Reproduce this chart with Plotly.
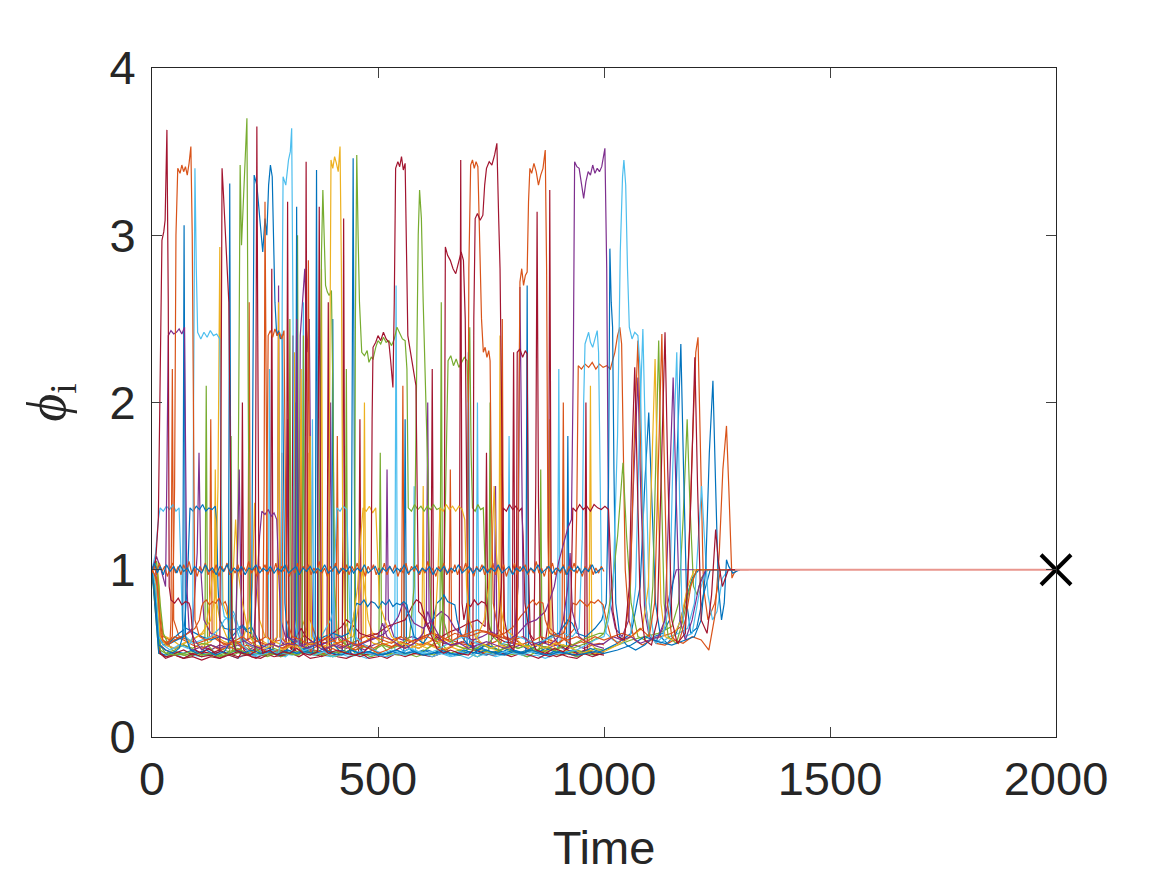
import plotly.graph_objects as go

# MATLAB default line colours
COLORS = {
    "blue": "#0072BD", "orange": "#D95319", "yellow": "#EDB120",
    "purple": "#7E2F8E", "green": "#77AC30", "lightblue": "#4DBEEE",
    "crimson": "#A2142F",
}

x_ticks = [0, 500, 1000, 1500, 2000]
y_ticks = [0, 1, 2, 3, 4]
x_title = "Time"
y_title = "<i>ϕ</i><sub>i</sub>"

# ---- agent trajectories phi_i(t): (time, value) ----
phi_03 = [(0,1.00),(8,1.05),(14,1.3),(18,2.0),(22,2.97),(26,3.02),(29,3.09),(33,3.63),(36,2.6),(38,0.9),(42,0.82),(50,0.80),(58,0.83),(66,0.79),(74,0.81),(82,0.80),(86,0.76),(90,0.6),(96,0.52),(110,0.50),(125,0.53),(140,0.50),(150,0.51),(152,1.5),(155,3.40),(158,3.25),(162,3.0),(166,2.75),(170,2.6),(173,1.8),(177,0.6),(185,0.52),(200,0.50),(215,0.49),(228,0.51),(230,2.2),(232,3.65),(234,2.4),(237,0.6),(245,0.50),(260,0.52),(275,0.49),(290,0.51),(305,0.50),(320,0.53),(335,0.50),(350,0.49),(366,0.51),(368,1.8),(370,3.17),(372,1.9),(375,0.55),(390,0.50),(410,0.52),(430,0.50),(450,0.49),(470,0.51),(484,0.55),(487,1.9),(489,2.33),(495,2.36),(500,2.40),(506,2.37),(512,2.42),(518,2.38),(524,2.36),(528,2.25),(533,2.09),(536,2.6),(539,3.40),(544,3.44),(548,3.41),(552,3.47),(556,3.39),(560,3.43),(563,3.0),(566,2.40),(572,2.30),(578,2.20),(584,2.10),(587,1.4),(590,0.75),(600,0.72),(615,0.62),(630,0.53),(645,0.50),(660,0.52),(680,0.50),(700,0.49),(710,0.52),(712,2.5),(715,3.10),(720,3.13),(726,3.09),(732,3.12),(736,3.3),(740,3.40),(746,3.44),(752,3.42),(758,3.48),(763,3.55),(767,3.1),(770,2.8),(775,1.6),(780,0.7),(790,0.55),(800,0.52),(806,0.6),(808,2.3),(814,2.32),(820,2.27),(826,2.31),(830,2.29),(833,1.0),(837,0.6),(850,0.52),(870,0.50),(890,0.53),(910,0.51),(925,0.55),(929,1.1),(931,1.37),(938,1.35),(946,1.39),(954,1.36),(962,1.38),(970,1.35),(978,1.39),(986,1.37),(994,1.36),(1002,1.38),(1010,1.36),(1014,1.1),(1020,0.75),(1030,0.6),(1045,0.58),(1056,0.9),(1062,1.7),(1068,2.21),(1073,1.6),(1080,0.8),(1090,0.58),(1105,0.55),(1118,0.7),(1126,1.5),(1135,2.42),(1141,1.6),(1150,0.7),(1162,0.56),(1180,0.62),(1192,1.4),(1201,2.27),(1207,1.5),(1215,0.7),(1228,0.62),(1238,0.85),(1247,1.24),(1253,1.05),(1262,0.9),(1275,1.0),(1300,1.0)]

phi_04 = [(0,1.0),(10,0.95),(18,0.7),(24,0.58),(35,0.56),(45,0.6),(50,1.5),(53,3.0),(57,3.40),(62,3.37),(66,3.42),(70,3.38),(74,3.41),(78,3.36),(82,3.43),(86,3.53),(89,3.0),(92,1.5),(95,0.7),(105,0.6),(120,0.58),(140,0.6),(160,0.55),(180,0.57),(200,0.6),(220,0.56),(240,0.58),(252,0.6),(255,1.8),(257,2.40),(262,2.43),(267,2.39),(272,2.44),(277,2.40),(282,2.42),(287,2.38),(292,2.43),(295,1.6),(298,0.7),(310,0.6),(330,0.58),(350,0.55),(370,0.57),(390,0.6),(410,0.56),(430,0.58),(450,0.55),(470,0.57),(490,0.6),(510,0.58),(530,0.56),(550,0.6),(570,0.57),(590,0.58),(610,0.6),(630,0.57),(650,0.59),(670,0.62),(690,0.6),(710,0.61),(730,0.63),(750,0.62),(770,0.6),(790,0.58),(808,0.6),(811,2.0),(814,2.72),(818,2.8),(822,2.7),(826,2.76),(830,2.78),(833,3.2),(836,3.40),(840,3.37),(845,3.43),(850,3.38),(855,3.30),(860,3.36),(865,3.40),(870,3.51),(873,2.8),(876,1.2),(880,0.65),(900,0.6),(920,0.58),(940,0.6),(960,0.57),(980,0.6),(1000,0.58),(1020,0.6),(1040,0.62),(1060,0.6),(1080,0.65),(1100,0.6),(1112,0.8),(1120,1.6),(1128,2.41),(1133,1.7),(1140,0.8),(1150,0.6),(1165,0.56),(1180,0.7),(1192,0.9),(1205,1.0),(1230,1.0),(1300,1.0)]

phi_05 = [(0,1.0),(10,1.08),(20,1.0),(30,0.9),(33,1.6),(36,2.40),(42,2.43),(48,2.41),(54,2.42),(60,2.44),(66,2.41),(72,2.45),(74,1.8),(77,0.9),(82,0.65),(95,0.58),(110,0.52),(130,0.55),(150,0.53),(170,0.55),(185,0.6),(190,1.2),(193,1.6),(196,1.0),(200,0.58),(220,0.55),(240,0.53),(260,0.56),(280,0.54),(300,0.56),(315,0.55),(318,1.6),(320,2.5),(323,1.5),(326,0.55),(345,0.53),(360,0.55),(380,0.52),(400,0.55),(420,0.53),(440,0.56),(460,0.55),(480,0.58),(500,0.6),(510,0.68),(520,0.6),(540,0.56),(560,0.53),(580,0.56),(600,0.62),(610,0.75),(620,0.68),(640,0.58),(660,0.55),(680,0.56),(700,0.53),(720,0.55),(740,0.57),(760,0.55),(780,0.53),(800,0.55),(810,0.9),(814,2.69),(818,1.4),(822,0.6),(840,0.55),(860,0.57),(880,0.55),(900,0.6),(910,0.7),(920,0.9),(925,1.1),(930,0.75),(945,0.6),(960,0.57),(980,0.55),(1000,0.56),(1020,0.6),(1040,0.58),(1060,0.6),(1080,0.56),(1100,0.58),(1120,0.6),(1135,0.7),(1145,1.5),(1153,2.15),(1159,1.5),(1168,0.7),(1180,0.58),(1195,0.7),(1210,0.9),(1225,1.0),(1300,1.0)]

phi_06 = [(0,1.0),(8,0.8),(15,0.55),(30,0.52),(45,0.5),(60,0.53),(68,0.6),(71,3.06),(74,0.6),(85,0.52),(100,0.5),(120,0.52),(140,0.49),(160,0.51),(169,0.55),(172,3.31),(175,0.6),(185,0.52),(200,0.5),(220,0.52),(240,0.5),(260,0.51),(280,0.49),(300,0.52),(320,0.5),(340,0.51),(355,0.5),(361,0.6),(364,3.39),(367,0.6),(380,0.52),(400,0.5),(420,0.49),(440,0.52),(460,0.5),(480,0.51),(500,0.49),(520,0.5),(540,0.52),(560,0.5),(580,0.51),(600,0.49),(620,0.5),(640,0.52),(660,0.5),(680,0.49),(700,0.51),(720,0.5),(740,0.52),(760,0.5),(780,0.49),(800,0.51),(820,0.5),(840,0.52),(860,0.5),(880,0.49),(900,0.51),(920,0.5),(940,0.49),(960,0.5),(980,0.51),(1000,0.5),(1030,0.52),(1060,0.55),(1090,0.6),(1120,0.57),(1150,0.55),(1180,0.58),(1200,0.6),(1215,0.7),(1225,1.0),(1233,1.7),(1241,2.13),(1247,1.5),(1253,0.9),(1260,0.7),(1266,0.8),(1271,1.06),(1276,1.02),(1285,0.98),(1300,1.0)]

phi_07 = [(0,1.0),(8,0.9),(15,0.6),(25,0.55),(40,0.52),(60,0.55),(80,0.53),(90,0.6),(92,2.0),(95,3.40),(98,2.8),(101,2.42),(108,2.38),(115,2.42),(122,2.39),(129,2.43),(136,2.40),(143,2.41),(150,2.38),(152,1.8),(155,0.8),(160,0.72),(170,0.7),(180,0.73),(190,0.62),(200,0.55),(220,0.5),(240,0.49),(260,0.51),(280,0.5),(286,0.6),(288,2.6),(290,3.35),(296,3.30),(302,3.45),(306,3.50),(309,3.64),(312,2.5),(315,0.7),(325,0.55),(340,0.5),(360,0.49),(380,0.51),(400,0.48),(420,0.5),(440,0.49),(460,0.51),(480,0.5),(500,0.49),(520,0.48),(540,0.5),(560,0.49),(580,0.51),(600,0.5),(620,0.48),(640,0.5),(660,0.49),(680,0.51),(700,0.5),(720,0.48),(740,0.5),(760,0.49),(780,0.51),(800,0.5),(820,0.49),(840,0.51),(860,0.5),(880,0.49),(900,0.5),(920,0.51),(940,0.52),(960,0.55),(980,0.58),(1000,0.6),(1010,0.7),(1020,0.9),(1030,1.8),(1036,2.9),(1041,3.35),(1044,3.45),(1048,3.3),(1052,2.8),(1056,2.45),(1062,2.38),(1068,2.42),(1075,2.4),(1080,2.2),(1085,1.5),(1092,0.8),(1100,0.62),(1115,0.56),(1130,0.6),(1145,0.8),(1152,1.6),(1161,2.30),(1166,1.6),(1172,0.8),(1180,0.6),(1195,0.62),(1210,0.85),(1225,1.0),(1300,1.0)]

phi_08 = [(0,1.0),(10,0.9),(18,0.6),(30,0.55),(50,0.53),(70,0.56),(90,0.58),(110,0.62),(130,0.7),(140,0.85),(146,1.5),(150,2.93),(153,1.5),(157,0.8),(170,0.7),(180,1.0),(185,1.3),(190,1.0),(200,0.8),(215,0.6),(230,0.55),(250,0.53),(270,0.55),(290,0.52),(310,0.55),(330,0.53),(350,0.56),(370,0.54),(390,0.55),(393,2.5),(396,3.45),(400,3.40),(404,3.47),(408,3.43),(412,3.38),(416,3.53),(419,2.8),(422,1.2),(426,0.7),(440,0.6),(455,0.9),(462,1.2),(467,1.37),(474,1.35),(481,1.38),(488,1.34),(495,1.37),(499,1.1),(503,0.8),(515,0.7),(530,0.6),(550,0.56),(570,0.55),(590,0.53),(610,0.56),(625,0.6),(633,1.0),(637,1.37),(644,1.35),(651,1.39),(658,1.36),(665,1.38),(672,1.35),(679,1.38),(686,1.36),(692,1.3),(696,0.9),(702,0.7),(715,0.6),(730,0.56),(750,0.53),(770,0.55),(790,0.53),(810,0.56),(830,0.54),(850,0.55),(870,0.53),(890,0.56),(910,0.55),(930,0.53),(950,0.5),(970,0.52),(990,0.5),(1000,0.51),(1030,0.55),(1060,0.6),(1085,0.65),(1098,0.9),(1106,1.7),(1113,2.26),(1118,1.6),(1126,0.8),(1135,0.6),(1150,0.58),(1170,0.7),(1185,0.9),(1200,1.0),(1300,1.0)]

phi_09 = [(0,1.0),(10,0.8),(18,0.55),(30,0.5),(50,0.49),(70,0.5),(90,0.51),(110,0.49),(130,0.5),(150,0.48),(170,0.5),(185,0.52),(190,1.2),(193,2.5),(195,3.42),(198,2.94),(203,3.3),(207,3.5),(210,3.70),(213,2.0),(216,0.7),(225,0.55),(240,0.5),(260,0.49),(280,0.51),(300,0.5),(320,0.49),(340,0.51),(360,0.5),(380,0.49),(400,0.51),(420,0.5),(440,0.52),(448,0.6),(450,2.5),(453,3.48),(456,3.0),(459,2.6),(464,2.30),(470,2.28),(476,2.31),(480,2.24),(485,2.27),(489,2.26),(495,2.33),(500,2.37),(506,2.35),(512,2.39),(518,2.36),(524,2.37),(530,2.34),(536,2.38),(542,2.45),(548,2.41),(554,2.38),(560,2.37),(564,2.2),(567,1.37),(574,1.35),(581,1.39),(588,1.36),(595,1.38),(602,1.35),(609,1.38),(616,1.36),(623,1.39),(630,1.36),(637,1.37),(640,1.0),(645,0.7),(655,0.6),(670,0.55),(690,0.53),(710,0.52),(730,0.55),(750,0.53),(770,0.52),(790,0.55),(810,0.53),(830,0.55),(850,0.52),(870,0.54),(890,0.52),(910,0.55),(930,0.53),(950,0.55),(970,0.57),(990,0.6),(1000,0.62),(1010,0.75),(1020,0.95),(1030,1.2),(1042,1.64),(1050,1.2),(1060,0.8),(1075,0.6),(1090,0.58),(1100,0.62),(1108,0.9),(1115,1.7),(1121,2.37),(1126,1.6),(1133,0.8),(1142,0.6),(1160,0.56),(1175,0.7),(1190,0.9),(1205,1.0),(1300,1.0)]

phi_10 = [(0,1.0),(8,0.85),(15,0.6),(25,0.55),(40,0.57),(60,0.62),(75,0.65),(90,0.63),(110,0.6),(130,0.58),(150,0.6),(170,0.58),(190,0.64),(200,0.66),(210,0.63),(220,0.62),(223,2.0),(226,3.36),(232,3.3),(238,3.1),(245,2.9),(250,3.1),(254,3.0),(258,3.3),(262,3.42),(266,3.35),(269,2.9),(272,2.6),(276,2.40),(280,2.43),(284,2.38),(288,2.41),(291,1.6),(294,0.8),(300,0.6),(320,0.55),(340,0.52),(360,0.5),(380,0.53),(400,0.5),(420,0.52),(440,0.5),(442,1.5),(445,3.46),(448,1.4),(451,0.55),(470,0.5),(490,0.52),(510,0.49),(530,0.51),(550,0.5),(570,0.53),(590,0.5),(610,0.52),(630,0.5),(650,0.51),(670,0.49),(690,0.52),(710,0.5),(730,0.53),(750,0.51),(770,0.5),(790,0.53),(810,0.5),(830,0.52),(850,0.5),(870,0.53),(890,0.51),(910,0.5),(930,0.52),(950,0.5),(970,0.53),(990,0.51),(1000,0.52),(1030,0.56),(1060,0.62),(1080,0.9),(1090,1.5),(1099,1.94),(1106,1.4),(1114,0.8),(1125,0.6),(1140,0.56),(1160,0.62),(1180,0.8),(1195,0.95),(1210,1.0),(1300,1.0)]

phi_11 = [(0,1.0),(10,0.85),(18,0.6),(30,0.56),(50,0.6),(70,0.58),(90,0.55),(110,0.53),(130,0.55),(150,0.52),(170,0.54),(190,0.52),(210,0.55),(230,0.53),(245,0.55),(248,1.5),(250,3.20),(253,1.5),(256,0.6),(270,0.55),(290,0.53),(310,0.56),(330,0.54),(350,0.52),(370,0.55),(390,0.53),(410,0.56),(430,0.54),(450,0.52),(470,0.55),(490,0.53),(510,0.56),(530,0.54),(550,0.57),(570,0.55),(590,0.53),(610,0.56),(630,0.54),(650,0.52),(670,0.55),(690,0.57),(698,0.7),(701,2.8),(705,3.42),(709,3.45),(713,3.40),(717,3.44),(721,3.41),(725,3.0),(729,2.5),(733,2.30),(737,2.33),(741,2.27),(745,2.31),(748,2.25),(751,1.4),(755,0.8),(765,0.65),(780,0.6),(800,0.58),(820,0.6),(840,0.57),(860,0.6),(880,0.58),(900,0.56),(920,0.6),(935,0.65),(940,1.4),(943,2.22),(950,2.20),(958,2.23),(966,2.21),(974,2.24),(982,2.20),(990,2.23),(998,2.21),(1006,2.22),(1014,2.20),(1018,2.24),(1024,2.3),(1030,2.40),(1035,2.45),(1039,2.35),(1042,1.8),(1047,1.0),(1055,0.7),(1068,0.58),(1085,0.55),(1105,0.58),(1125,0.6),(1150,0.62),(1170,0.66),(1185,0.9),(1195,1.7),(1203,2.3),(1208,2.39),(1213,1.7),(1220,0.9),(1230,0.7),(1245,0.8),(1258,1.0),(1300,1.0)]

phi_12 = [(0,1.0),(10,0.7),(18,0.5),(30,0.48),(50,0.49),(70,0.47),(90,0.5),(110,0.48),(130,0.49),(150,0.47),(170,0.5),(190,0.48),(210,0.49),(230,0.47),(250,0.5),(270,0.48),(290,0.49),(310,0.5),(325,0.48),(338,0.5),(341,3.44),(344,0.55),(355,0.5),(375,0.48),(395,0.5),(410,0.49),(421,0.52),(424,3.10),(427,0.6),(440,0.5),(460,0.48),(480,0.5),(500,0.49),(520,0.47),(540,0.5),(560,0.48),(580,0.5),(600,0.49),(620,0.48),(640,0.5),(646,0.6),(649,2.93),(654,2.88),(660,2.85),(666,2.80),(672,2.77),(678,2.83),(684,2.9),(689,2.85),(693,2.5),(697,1.2),(701,0.6),(715,0.52),(735,0.5),(755,0.49),(775,0.5),(795,0.48),(815,0.5),(835,0.49),(855,0.47),(875,0.5),(895,0.48),(915,0.5),(935,0.49),(955,0.5),(975,0.48),(995,0.5),(1000,0.5)]

phi_13 = [(0,1.0),(10,0.75),(18,0.52),(30,0.5),(50,0.52),(70,0.55),(90,0.53),(110,0.56),(130,0.55),(150,0.53),(170,0.51),(190,0.53),(210,0.5),(230,0.52),(250,0.5),(270,0.53),(290,0.51),(310,0.5),(330,0.52),(350,0.5),(368,0.52),(372,1.8),(375,2.9),(378,3.27),(381,2.9),(384,2.70),(388,2.66),(392,2.64),(397,2.67),(400,2.1),(404,0.9),(410,0.6),(430,0.55),(450,0.52),(470,0.54),(490,0.52),(510,0.55),(530,0.53),(550,0.55),(570,0.6),(580,0.9),(585,2.0),(589,3.0),(592,3.27),(596,3.1),(600,2.6),(605,2.1),(610,1.6),(615,0.9),(622,0.6),(640,0.53),(660,0.5),(680,0.52),(700,0.5),(720,0.53),(740,0.51),(760,0.5),(780,0.53),(800,0.51),(820,0.5),(840,0.52),(860,0.5),(880,0.53),(900,0.51),(920,0.5),(940,0.52),(960,0.5),(980,0.53),(1000,0.52),(1030,0.55),(1060,0.58),(1090,0.6),(1120,0.62),(1150,0.66),(1165,0.8),(1175,1.3),(1184,1.90),(1190,1.4),(1198,0.9),(1206,0.85),(1215,0.95),(1230,1.0),(1300,1.0)]

phi_14 = [(0,1.0),(10,0.8),(18,0.55),(30,0.52),(50,0.5),(70,0.52),(90,0.49),(110,0.51),(130,0.5),(150,0.52),(170,0.49),(190,0.51),(210,0.5),(230,0.53),(250,0.51),(270,0.5),(290,0.52),(310,0.55),(320,0.6),(330,0.65),(340,0.6),(360,0.56),(380,0.58),(400,0.62),(420,0.66),(430,0.7),(440,0.68),(460,0.62),(480,0.6),(500,0.62),(520,0.66),(540,0.68),(560,0.7),(575,0.78),(585,0.82),(595,0.8),(605,0.7),(620,0.62),(640,0.58),(660,0.55),(675,0.56),(680,0.7),(683,3.45),(686,0.8),(690,0.7),(697,0.80),(705,0.78),(713,0.82),(721,0.79),(729,0.81),(737,0.8),(741,0.78),(746,0.65),(755,0.6),(765,0.62),(773,0.9),(777,1.37),(784,1.35),(791,1.39),(798,1.36),(805,1.38),(812,1.35),(818,1.37),(821,1.2),(825,0.8),(835,0.62),(845,0.58),(849,1.5),(852,3.14),(855,1.4),(860,0.6),(870,0.56),(877,0.7),(880,3.27),(883,1.0),(888,0.6),(900,0.55),(920,0.52),(940,0.5),(960,0.52),(980,0.49),(1000,0.51)]

phi_15 = [(0,1.0),(10,1.05),(18,0.8),(25,0.62),(35,0.56),(45,0.52),(60,0.5),(80,0.48),(100,0.5),(120,0.49),(140,0.48),(160,0.5),(180,0.49),(195,0.51),(200,0.6),(210,0.55),(225,0.5),(245,0.49),(265,0.5),(285,0.48),(305,0.5),(325,0.49),(332,0.6),(335,2.4),(338,0.6),(345,0.5),(365,0.49),(385,0.5),(405,0.48),(425,0.5),(445,0.49),(465,0.5),(485,0.48),(505,0.5),(525,0.49),(545,0.5),(565,0.49),(585,0.5),(605,0.52),(620,0.55),(635,0.6),(645,0.8),(650,1.6),(653,2.1),(655,2.25),(661,2.28),(667,2.22),(673,2.26),(679,2.21),(685,2.24),(691,2.27),(697,2.25),(700,2.0),(703,2.45),(706,1.7),(709,1.37),(715,1.35),(721,1.39),(727,1.36),(733,1.37),(737,1.0),(742,0.7),(755,0.6),(770,0.56),(790,0.55),(810,0.53),(830,0.55),(850,0.52),(870,0.54),(890,0.52),(910,0.54),(930,0.55),(950,0.58),(970,0.6),(990,0.62),(1000,0.62)]

phi_16 = [(0,1.0),(8,1.0),(14,0.75),(20,0.58),(35,0.55),(50,0.58),(70,0.6),(90,0.65),(100,1.1),(104,1.7),(108,1.0),(115,0.7),(130,0.62),(150,0.6),(170,0.58),(190,0.56),(210,0.58),(225,0.6),(232,0.9),(238,1.2),(243,1.35),(250,1.33),(257,1.36),(264,1.32),(270,1.34),(276,1.30),(280,1.0),(285,0.7),(295,0.6),(315,0.58),(335,0.55),(355,0.57),(375,0.55),(395,0.58),(415,0.6),(435,0.57),(455,0.55),(475,0.57),(495,0.59),(515,0.62),(530,0.66),(545,0.72),(555,0.8),(565,0.75),(580,0.68),(600,0.65),(620,0.7),(640,0.75),(655,0.72),(670,0.65),(690,0.6),(710,0.58),(730,0.6),(750,0.63),(770,0.6),(790,0.58),(810,0.62),(830,0.68),(850,0.7),(870,0.75),(880,0.82),(890,0.9),(900,1.05),(910,1.15),(920,1.25),(928,1.3),(932,2.2),(935,3.44),(940,3.41),(945,3.40),(950,3.30),(955,3.22),(960,3.32),(965,3.38),(970,3.36),(975,3.42),(980,3.37),(985,3.40),(990,3.38),(995,3.41),(1002,3.52),(1006,2.8),(1010,1.2),(1014,0.8),(1025,0.65),(1040,0.6),(1055,0.7),(1065,1.5),(1075,2.15),(1081,1.5),(1090,0.75),(1100,0.6),(1115,0.57),(1130,0.65),(1145,0.85),(1160,1.0),(1300,1.0)]

phi_17 = [(0,1.0),(8,0.8),(14,0.6),(25,0.55),(40,0.56),(55,0.58),(70,0.6),(78,0.9),(82,1.2),(84,1.37),(91,1.35),(98,1.38),(105,1.36),(112,1.39),(119,1.35),(126,1.37),(133,1.36),(140,1.38),(143,1.3),(146,0.9),(150,0.7),(160,0.65),(175,0.64),(190,0.65),(200,0.67),(210,0.64),(220,0.66),(230,0.6),(240,0.55),(260,0.53),(280,0.5),(300,0.52),(320,0.5),(340,0.53),(360,0.55),(380,0.6),(400,0.62),(420,0.6),(435,0.62),(445,0.7),(450,0.78),(453,0.80),(461,0.79),(469,0.82),(477,0.78),(485,0.81),(493,0.8),(501,0.77),(509,0.81),(517,0.79),(525,0.82),(533,0.78),(541,0.8),(549,0.79),(557,0.81),(564,0.79),(570,0.7),(580,0.6),(600,0.56),(615,0.62),(625,0.75),(630,0.80),(638,0.82),(646,0.85),(654,0.81),(662,0.8),(670,0.79),(675,0.7),(685,0.6),(700,0.55),(720,0.52),(740,0.55),(760,0.53),(780,0.5),(800,0.52),(820,0.5),(840,0.53),(860,0.56),(880,0.6),(900,0.62),(910,0.66),(920,0.7),(930,0.68),(940,0.62),(960,0.6),(980,0.65),(995,0.7),(1005,0.8),(1010,1.5),(1013,2.92),(1016,2.6),(1019,2.45),(1022,1.6),(1026,0.8),(1035,0.6),(1050,0.55),(1070,0.52),(1090,0.55),(1110,0.6),(1130,0.62),(1145,0.7),(1155,1.0),(1162,1.7),(1170,2.35),(1176,1.6),(1183,0.8),(1192,0.62),(1205,0.65),(1220,0.85),(1235,1.0),(1300,1.0)]

phi_18 = [(0,1.0),(8,1.1),(14,1.3),(18,1.37),(25,1.35),(32,1.38),(39,1.36),(46,1.39),(53,1.35),(60,1.37),(63,1.1),(67,0.7),(75,0.6),(90,0.56),(110,0.58),(130,0.6),(150,0.65),(160,0.7),(170,0.72),(180,0.75),(185,0.72),(195,0.62),(210,0.56),(230,0.53),(250,0.5),(270,0.52),(290,0.5),(310,0.49),(330,0.51),(350,0.53),(370,0.58),(385,0.65),(395,0.7),(400,0.75),(405,1.1),(409,1.37),(416,1.35),(423,1.38),(431,1.36),(434,1.0),(438,0.7),(450,0.6),(470,0.55),(490,0.52),(510,0.5),(530,0.52),(550,0.5),(570,0.53),(590,0.51),(610,0.5),(630,0.52),(650,0.55),(670,0.58),(690,0.6),(710,0.57),(730,0.55),(750,0.53),(770,0.55),(790,0.58),(810,0.6),(830,0.58),(850,0.56),(870,0.58),(890,0.6),(910,0.62),(930,0.6),(945,0.65),(952,1.2),(955,2.0),(958,2.35),(962,2.38),(966,2.42),(970,2.36),(975,2.33),(980,2.38),(985,2.43),(988,2.3),(991,1.6),(995,0.8),(1005,0.62),(1020,0.58),(1040,0.56),(1058,0.6),(1070,0.9),(1078,1.8),(1086,2.44),(1092,1.7),(1100,0.8),(1110,0.6),(1125,0.56),(1145,0.6),(1165,0.62),(1185,0.65),(1200,0.8),(1209,1.2),(1216,1.50),(1222,1.2),(1230,0.85),(1240,0.7),(1250,0.75),(1262,0.95),(1275,1.0),(1300,1.0)]

phi_19 = [(0,1.0),(10,1.05),(16,0.9),(20,0.62),(30,0.6),(45,0.58),(60,0.55),(80,0.57),(100,0.6),(115,0.62),(125,0.75),(130,0.88),(135,1.0),(140,0.85),(150,0.7),(165,0.6),(180,0.55),(200,0.58),(215,0.7),(222,0.9),(227,1.4),(232,0.9),(238,0.7),(250,0.6),(270,0.57),(290,0.55),(310,0.58),(325,0.6),(330,2.2),(333,0.7),(345,0.6),(350,1.8),(353,0.6),(365,0.55),(385,0.53),(405,0.56),(425,0.58),(445,0.6),(455,0.75),(460,0.9),(465,1.0),(470,0.9),(478,0.7),(490,0.6),(510,0.56),(530,0.54),(550,0.56),(570,0.58),(590,0.55),(610,0.53),(630,0.56),(650,0.58),(670,0.55),(690,0.53),(705,0.56),(720,0.6),(735,0.7),(745,0.9),(752,1.1),(757,1.5),(762,1.1),(770,0.8),(780,0.65),(800,0.6),(820,0.55),(840,0.52),(860,0.5),(880,0.53),(900,0.5),(920,0.52),(940,0.49),(960,0.51),(980,0.5),(1000,0.51)]

phi_20 = [(0,1.0),(8,0.95),(14,0.7),(22,0.58),(35,0.55),(50,0.58),(65,0.6),(80,0.62),(95,0.65),(105,0.7),(110,0.78),(113,0.80),(120,0.82),(127,0.79),(134,0.81),(141,0.8),(148,0.83),(155,0.79),(162,0.81),(166,0.78),(170,0.65),(180,0.58),(195,0.55),(210,0.53),(225,0.5),(240,0.53),(260,0.5),(280,0.52),(300,0.55),(320,0.53),(340,0.5),(360,0.52),(380,0.5),(400,0.53),(420,0.5),(440,0.52),(460,0.55),(480,0.53),(500,0.5),(520,0.52),(540,0.55),(560,0.53),(580,0.56),(600,0.6),(620,0.62),(640,0.6),(660,0.57),(680,0.6),(700,0.62),(720,0.64),(740,0.63),(760,0.6),(780,0.62),(800,0.66),(815,0.72),(825,0.75),(832,0.78),(836,0.80),(843,0.82),(850,0.79),(857,0.81),(865,0.8),(870,0.7),(880,0.62),(895,0.6),(910,0.62),(922,0.7),(928,0.78),(931,0.80),(939,0.79),(947,0.82),(955,0.8),(963,0.78),(971,0.81),(979,0.8),(987,0.82),(998,0.79),(1005,0.7),(1015,0.6),(1030,0.56),(1045,0.6),(1058,0.85),(1066,1.7),(1075,2.37),(1081,1.7),(1090,0.85),(1100,0.62),(1115,0.56),(1135,0.55),(1155,0.58),(1175,0.56),(1195,0.6),(1215,0.58),(1232,0.52),(1245,0.72),(1255,1.1),(1263,1.6),(1271,1.86),(1276,1.5),(1280,1.1),(1283,0.95),(1288,0.98),(1295,1.0),(1320,1.0)]

phi_21 = [(0,1.0),(10,0.9),(18,0.6),(30,0.55),(50,0.53),(70,0.55),(90,0.52),(110,0.54),(130,0.52),(150,0.55),(170,0.53),(190,0.55),(210,0.52),(230,0.54),(250,0.52),(270,0.55),(277,0.6),(280,2.7),(283,0.6),(290,0.55),(297,0.6),(300,1.9),(303,0.6),(315,0.55),(325,0.6),(328,2.4),(333,2.6),(338,2.8),(343,2.3),(348,2.5),(352,1.2),(356,0.6),(370,0.55),(390,0.57),(395,2.0),(398,0.6),(410,0.55),(430,0.53),(450,0.55),(470,0.52),(490,0.55),(510,0.57),(517,0.7),(520,1.6),(523,0.7),(535,0.6),(555,0.58),(575,0.6),(595,0.58),(607,0.7),(610,2.0),(613,0.7),(625,0.6),(645,0.56),(665,0.55),(685,0.57),(705,0.55),(725,0.53),(745,0.56),(757,0.6),(760,1.5),(763,0.6),(775,0.55),(795,0.53),(815,0.55),(835,0.52),(855,0.55),(875,0.53),(895,0.55),(915,0.52),(935,0.55),(955,0.53),(975,0.55),(1000,0.53)]

phi_22 = [(0,1.0),(8,0.85),(15,0.52),(30,0.48),(50,0.5),(70,0.47),(90,0.49),(110,0.48),(130,0.5),(150,0.48),(170,0.49),(190,0.47),(210,0.5),(230,0.48),(250,0.49),(257,0.55),(260,2.2),(263,0.55),(275,0.5),(295,0.48),(315,0.52),(318,2.0),(321,0.55),(332,0.52),(335,2.6),(338,0.55),(352,0.5),(355,1.9),(358,0.52),(375,0.49),(395,0.48),(415,0.5),(435,0.48),(455,0.49),(475,0.47),(495,0.5),(515,0.48),(537,0.5),(540,2.7),(543,0.55),(560,0.5),(577,0.52),(580,1.5),(583,0.52),(600,0.49),(620,0.48),(640,0.5),(660,0.48),(680,0.49),(700,0.47),(717,0.5),(720,2.0),(723,0.55),(740,0.5),(760,0.48),(787,0.5),(790,1.8),(793,0.52),(810,0.5),(830,0.48),(850,0.49),(870,0.47),(897,0.5),(900,2.2),(903,0.55),(920,0.5),(940,0.48),(960,0.5),(980,0.49),(1000,0.5)]

phi_23 = [(0,1.0),(8,0.7),(15,0.5),(30,0.48),(50,0.5),(70,0.49),(90,0.5),(110,0.48),(117,0.55),(120,2.1),(123,0.55),(140,0.5),(160,0.48),(172,0.52),(175,1.8),(178,0.52),(195,0.5),(215,0.49),(235,0.5),(255,0.48),(275,0.5),(295,0.49),(302,0.55),(305,2.5),(308,0.55),(315,0.5),(319,0.6),(322,3.0),(325,0.6),(340,0.5),(360,0.49),(380,0.5),(400,0.48),(427,0.52),(430,2.2),(433,0.55),(450,0.5),(470,0.49),(490,0.5),(502,0.55),(505,1.7),(508,0.55),(525,0.5),(545,0.49),(565,0.5),(585,0.48),(605,0.5),(625,0.49),(637,0.55),(640,2.6),(643,0.55),(660,0.5),(680,0.49),(700,0.5),(720,0.48),(745,0.52),(748,2.0),(751,0.55),(770,0.5),(790,0.49),(810,0.5),(830,0.48),(857,0.52),(860,1.6),(863,0.52),(880,0.5),(900,0.49),(920,0.5),(940,0.48),(960,0.5),(980,0.49),(1000,0.5)]

phi_24 = [(0,1.0),(10,0.95),(18,0.6),(30,0.56),(50,0.58),(70,0.6),(90,0.57),(110,0.55),(130,0.57),(137,0.6),(140,1.6),(143,0.6),(160,0.57),(180,0.55),(200,0.57),(220,0.6),(240,0.58),(260,0.55),(277,0.6),(280,2.6),(283,0.6),(300,0.56),(312,0.6),(315,2.3),(318,0.6),(330,0.55),(342,0.58),(345,1.7),(348,0.58),(360,0.55),(372,0.6),(375,2.8),(378,0.6),(395,0.55),(415,0.53),(435,0.55),(455,0.58),(467,0.6),(470,2.0),(473,0.6),(490,0.56),(510,0.55),(530,0.57),(550,0.55),(570,0.53),(597,0.56),(600,1.5),(603,0.56),(620,0.54),(640,0.52),(660,0.54),(680,0.52),(700,0.54),(720,0.52),(740,0.5),(767,0.52),(770,2.4),(773,0.55),(790,0.52),(810,0.5),(830,0.52),(850,0.5),(877,0.52),(880,1.9),(883,0.55),(900,0.52),(920,0.5),(940,0.52),(967,0.5),(970,2.1),(973,0.55),(985,0.52),(1000,0.51)]

phi_25 = [(0,1.0),(8,0.75),(15,0.5),(30,0.49),(50,0.51),(70,0.5),(90,0.52),(110,0.5),(130,0.49),(150,0.51),(170,0.5),(190,0.52),(210,0.5),(230,0.49),(250,0.51),(270,0.5),(290,0.52),(310,0.5),(317,0.55),(320,3.17),(323,0.6),(335,0.52),(355,0.5),(375,0.51),(397,0.52),(400,2.5),(403,0.55),(420,0.5),(440,0.52),(460,0.5),(480,0.51),(500,0.49),(520,0.5),(540,0.52),(557,0.5),(560,1.9),(563,0.55),(580,0.5),(600,0.52),(620,0.5),(640,0.51),(660,0.49),(680,0.5),(697,0.52),(700,2.3),(703,0.55),(720,0.5),(740,0.49),(760,0.51),(780,0.5),(800,0.52),(827,0.5),(830,2.7),(833,0.55),(850,0.5),(870,0.49),(890,0.51),(917,0.5),(920,1.8),(923,0.55),(940,0.5),(960,0.52),(980,0.5),(1000,0.51)]

phi_26 = [(0,1.0),(10,0.8),(18,0.5),(30,0.47),(50,0.49),(70,0.47),(90,0.48),(110,0.46),(130,0.48),(150,0.47),(170,0.49),(190,0.47),(197,0.5),(200,2.0),(203,0.52),(220,0.48),(240,0.47),(262,0.5),(265,2.8),(268,0.52),(285,0.48),(297,0.5),(300,3.2),(303,0.55),(309,0.52),(312,2.4),(315,0.52),(327,0.5),(330,1.9),(333,0.5),(350,0.47),(370,0.48),(387,0.5),(390,2.6),(393,0.52),(410,0.48),(430,0.47),(457,0.5),(460,1.9),(463,0.5),(480,0.47),(500,0.48),(520,0.5),(540,0.52),(560,0.55),(580,0.58),(600,0.6),(617,0.62),(620,2.2),(623,0.62),(640,0.6),(660,0.63),(680,0.65),(700,0.68),(720,0.7),(737,0.66),(740,1.7),(743,0.62),(760,0.6),(780,0.57),(797,0.56),(800,2.3),(803,0.58),(820,0.55),(840,0.52),(860,0.5),(880,0.48),(900,0.5),(920,0.48),(940,0.47),(957,0.5),(960,2.0),(963,0.52),(980,0.5),(1000,0.49)]

phi_27 = [(0,1.0),(10,1.02),(18,0.75),(25,0.6),(40,0.58),(42,0.7),(45,2.2),(48,0.7),(60,0.6),(80,0.58),(100,0.56),(120,0.58),(127,0.6),(130,1.9),(133,0.6),(150,0.57),(170,0.55),(190,0.57),(212,0.58),(215,2.6),(218,0.6),(235,0.57),(255,0.55),(270,0.57),(284,0.58),(287,1.7),(290,0.58),(305,0.55),(320,0.57),(335,0.6),(343,0.65),(346,2.85),(350,0.7),(365,0.58),(385,0.56),(407,0.58),(410,1.8),(413,0.58),(430,0.55),(450,0.57),(470,0.6),(490,0.62),(510,0.6),(530,0.58),(552,0.6),(555,2.1),(558,0.6),(575,0.57),(595,0.55),(615,0.57),(635,0.6),(657,0.58),(660,1.6),(663,0.58),(680,0.56),(700,0.55),(720,0.57),(740,0.55),(760,0.57),(772,0.6),(775,2.5),(778,0.6),(795,0.57),(815,0.55),(835,0.57),(855,0.55),(875,0.57),(895,0.55),(907,0.58),(910,2.0),(913,0.58),(930,0.55),(950,0.57),(970,0.55),(990,0.56),(1000,0.55)]

# the two agents that stay near phi = 1 until t = 1000
phi_01 = [(0,1.00),(6,1.04),(12,0.98),(18,1.02),(25,0.97),(32,1.03),(40,0.99),(48,1.02),(55,0.98),(62,1.03),(70,0.99),(78,1.01),(86,0.97),(94,1.02),(102,1.00),(110,0.98),(118,1.03),(126,0.99),(134,1.01),(142,0.97),(150,1.02),(158,0.99),(166,1.03),(174,0.98),(182,1.01),(190,0.99),(198,1.02),(206,0.97),(214,1.01),(222,1.00),(230,1.03),(238,0.98),(246,1.01),(254,0.99),(262,1.02),(270,0.98),(278,1.01),(286,0.99),(294,1.03),(302,0.98),(310,1.00),(318,1.02),(326,0.97),(334,1.01),(342,0.99),(350,1.02),(358,0.98),(366,1.01),(374,0.99),(382,1.03),(390,0.98),(398,1.00),(406,1.02),(414,0.98),(422,1.01),(430,0.99),(438,1.02),(446,0.98),(454,1.01),(462,0.99),(470,1.03),(478,0.98),(486,1.00),(494,1.02),(502,0.97),(510,1.01),(518,0.99),(526,1.02),(534,0.98),(542,1.01),(550,0.99),(558,1.03),(566,0.98),(574,1.00),(582,1.02),(590,0.98),(598,1.01),(606,0.99),(614,1.02),(622,0.97),(630,1.01),(638,0.99),(646,1.02),(654,0.98),(662,1.01),(670,0.99),(678,1.03),(686,0.98),(694,1.00),(702,1.02),(710,0.98),(718,1.01),(726,0.99),(734,1.02),(742,0.98),(750,1.01),(758,0.99),(766,1.03),(774,0.98),(782,1.00),(790,1.02),(798,0.97),(806,1.01),(814,0.99),(822,1.02),(830,0.98),(838,1.01),(846,0.99),(854,1.03),(862,0.98),(870,1.00),(878,1.02),(886,0.98),(894,1.01),(902,0.99),(910,1.02),(918,0.97),(926,1.01),(934,0.99),(942,1.02),(950,0.98),(958,1.01),(966,0.99),(974,1.03),(982,0.98),(990,1.00),(998,1.01)]

phi_02 = [(0,0.98),(5,1.03),(10,0.97),(16,1.04),(22,0.99),(28,1.02),(34,0.96),(40,1.01),(46,1.04),(52,0.98),(58,1.02),(64,0.97),(70,1.03),(76,0.99),(82,1.05),(88,0.98),(94,1.01),(100,0.96),(106,1.02),(112,0.99),(118,1.04),(124,0.97),(130,1.01),(136,0.98),(142,1.03),(148,0.96),(154,1.02),(160,0.99),(166,1.04),(172,0.97),(178,1.01),(184,0.98),(190,1.03),(196,0.97),(202,1.02),(208,0.99),(214,1.05),(220,0.98),(226,1.01),(232,0.96),(238,1.02),(244,0.99),(250,1.03),(256,0.97),(262,1.01),(268,0.98),(274,1.04),(280,0.97),(286,1.02),(292,0.99),(298,1.03),(304,0.96),(310,1.01),(316,0.98),(322,1.04),(328,0.97),(334,1.02),(340,0.99),(346,1.03),(352,0.97),(358,1.01),(364,0.98),(370,1.05),(376,0.98),(382,1.01),(388,0.96),(394,1.02),(400,0.99),(406,1.04),(412,0.97),(418,1.01),(424,0.98),(430,1.03),(436,0.97),(442,1.02),(448,0.99),(454,1.04),(460,0.98),(466,1.01),(472,0.96),(478,1.02),(484,0.99),(490,1.03),(496,0.97),(502,1.01),(508,0.98),(514,1.04),(520,0.97),(526,1.02),(532,0.99),(538,1.03),(544,0.96),(550,1.01),(556,0.98),(562,1.04),(568,0.97),(574,1.02),(580,0.99),(586,1.03),(592,0.97),(598,1.01),(604,0.98),(610,1.05),(616,0.98),(622,1.01),(628,0.96),(634,1.02),(640,0.99),(646,1.04),(652,0.97),(658,1.01),(664,0.98),(670,1.03),(676,0.97),(682,1.02),(688,0.99),(694,1.04),(700,0.98),(706,1.01),(712,0.96),(718,1.02),(724,0.99),(730,1.03),(736,0.97),(742,1.01),(748,0.98),(754,1.04),(760,0.97),(766,1.02),(772,0.99),(778,1.03),(784,0.96),(790,1.01),(796,0.98),(802,1.04),(808,0.97),(814,1.02),(820,0.99),(826,1.03),(832,0.97),(838,1.01),(844,0.98),(850,1.05),(856,0.98),(862,1.01),(868,0.96),(874,1.02),(880,0.99),(886,1.04),(892,0.97),(898,1.01),(904,0.98),(910,1.03),(916,0.97),(922,1.02),(928,0.99),(934,1.04),(940,0.98),(946,1.01),(952,0.96),(958,1.02),(964,0.99),(970,1.03),(976,0.97),(982,1.01),(988,0.98),(994,1.02),(1000,0.99)]

# settled state after all agents converge
final_t = [1290, 2000]
final_phi = [1.0, 1.0]
end_t = [2000]
end_phi = [1.0]

traces = [
    (phi_21, "purple"), (phi_22, "lightblue"), (phi_23, "green"), (phi_24, "yellow"),
    (phi_25, "blue"), (phi_26, "crimson"), (phi_27, "orange"),
    (phi_19, "yellow"), (phi_15, "green"), (phi_14, "crimson"), (phi_12, "crimson"),
    (phi_13, "green"), (phi_10, "blue"), (phi_11, "orange"), (phi_16, "purple"),
    (phi_17, "blue"), (phi_18, "lightblue"), (phi_20, "orange"), (phi_09, "green"),
    (phi_08, "yellow"), (phi_07, "lightblue"), (phi_06, "blue"), (phi_05, "purple"),
    (phi_04, "orange"), (phi_03, "crimson"),
    (phi_02, "orange"), (phi_01, "blue"),
]

fig = go.Figure()
for pts, cname in traces:
    fig.add_trace(go.Scatter(
        x=[p[0] for p in pts], y=[p[1] for p in pts], mode="lines",
        line=dict(color=COLORS[cname], width=1.2), hoverinfo="skip",
    ))

fig.add_trace(go.Scatter(x=final_t, y=final_phi, mode="lines",
                         line=dict(color="#E9968E", width=2), hoverinfo="skip"))
fig.add_trace(go.Scatter(x=end_t, y=end_phi, mode="markers",
                         marker=dict(symbol="x-thin", size=30, color="black",
                                     line=dict(color="black", width=4)),
                         cliponaxis=False, hoverinfo="skip"))

font_main = dict(family="Liberation Sans, Arial, Helvetica, sans-serif", size=47, color="#262626")

fig.update_layout(
    width=1169, height=878,
    margin=dict(l=152, r=113, t=68, b=141),
    paper_bgcolor="white", plot_bgcolor="white",
    showlegend=False,
    font=font_main,
)
fig.update_xaxes(
    range=[0, 2000], tickvals=x_ticks, ticktext=[str(v) for v in x_ticks],
    showgrid=False, zeroline=False, showline=True, linecolor="#262626", linewidth=1,
    mirror="ticks", ticks="inside", ticklen=10, tickcolor="#404040", tickwidth=1,
    tickfont=font_main, ticklabelstandoff=1,
    title=dict(text=x_title, font=font_main, standoff=26),
)
fig.update_yaxes(
    range=[0, 4], tickvals=y_ticks, ticktext=[str(v) for v in y_ticks],
    showgrid=False, zeroline=False, showline=True, linecolor="#262626", linewidth=1,
    mirror="ticks", ticks="inside", ticklen=10, tickcolor="#404040", tickwidth=1,
    tickfont=font_main, ticklabelstandoff=6,
    title=dict(text=y_title, font=dict(family="Liberation Serif, DejaVu Serif, serif", size=54, color="#262626"), standoff=26),
)

fig.write_html("out.html")
